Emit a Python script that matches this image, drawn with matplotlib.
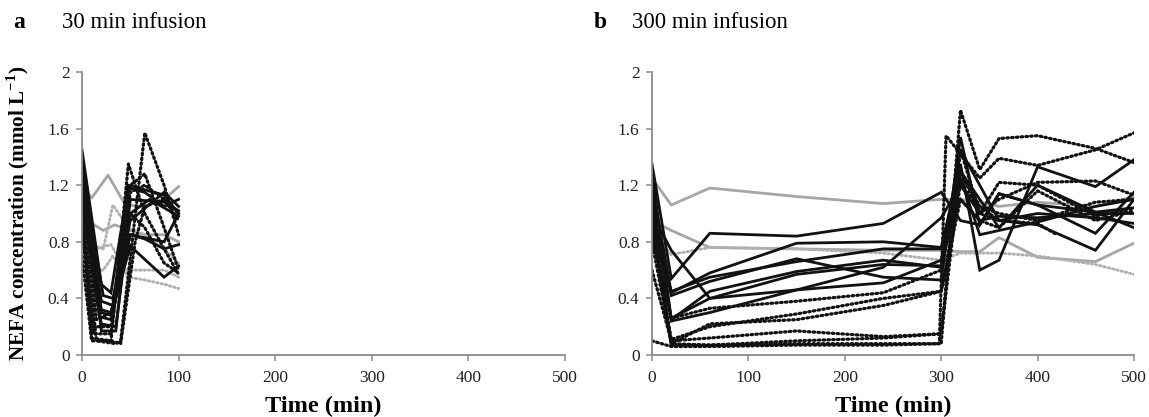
import matplotlib
matplotlib.use("Agg")
import matplotlib.pyplot as plt

# ---------------- data ----------------
# Panel a (30 min infusion): each line has its own sampling times
a_solid_t = [[0, 20, 30, 48, 85, 100], [0, 20, 32, 48, 65, 85, 100], [0, 20, 30, 50, 85, 100],
             [0, 18, 30, 50, 65, 85, 100], [0, 20, 30, 50, 85, 100], [0, 20, 35, 50, 70, 100],
             [0, 22, 32, 50, 85, 100], [0, 20, 35, 50, 85, 100]]
a_solid_v = [[1.45, 0.50, 0.44, 1.20, 1.13, 1.00], [1.30, 0.38, 0.35, 1.18, 1.15, 1.05, 1.10],
             [1.20, 0.32, 0.30, 0.85, 0.80, 1.00], [1.10, 0.27, 0.25, 0.85, 0.82, 0.75, 0.78],
             [1.25, 0.30, 0.28, 0.77, 0.55, 0.63], [1.15, 0.22, 0.20, 1.00, 1.10, 0.98],
             [1.30, 0.42, 0.40, 0.95, 1.15, 1.05], [1.40, 0.17, 0.17, 1.10, 1.08, 1.02]]
a_dot_t = [[0, 15, 35, 40, 65, 85, 100], [0, 10, 30, 48, 65, 85, 100],
           [0, 12, 30, 50, 65, 85, 100], [0, 10, 30, 50, 65, 85, 100],
           [0, 15, 30, 50, 65, 85, 100], [0, 10, 30, 40, 55, 65, 85, 100]]
a_dot_v = [[1.10, 0.10, 0.08, 0.10, 1.57, 1.20, 0.85], [1.00, 0.12, 0.10, 1.35, 1.00, 0.75, 0.57],
           [0.95, 0.15, 0.15, 1.20, 1.28, 0.90, 0.60], [0.90, 0.20, 0.20, 1.15, 1.20, 1.10, 1.00],
           [1.20, 0.25, 0.30, 1.00, 0.90, 0.65, 0.58], [0.70, 0.10, 0.10, 0.08, 0.80, 1.05, 1.10, 0.95]]
a_gray_t = [[0, 10, 27, 45, 65, 85, 100], [0, 8, 22, 34, 50, 65, 85, 100]]
a_gray_v = [[1.20, 1.11, 1.27, 1.06, 1.05, 1.10, 1.19], [1.00, 0.94, 0.88, 0.92, 0.88, 0.85, 0.85, 0.80]]
a_graydot_t = [[0, 10, 22, 32, 48, 65, 85, 100], [0, 10, 22, 32, 48, 65, 85, 100],
               [0, 15, 30, 45, 65, 85, 100]]
a_graydot_v = [[0.90, 0.78, 0.75, 1.06, 0.90, 0.85, 0.75, 0.65],
               [0.80, 0.60, 0.60, 0.70, 0.55, 0.53, 0.50, 0.47],
               [0.85, 0.75, 0.78, 0.60, 0.60, 0.60, 0.55]]

# Panel b (300 min infusion)
b_t = [0, 20, 60, 150, 240, 300, 320, 340, 360, 400, 460, 500]
b_solid_v = [[1.35, 0.54, 0.86, 0.84, 0.93, 1.15, 0.95, 0.92, 1.14, 1.06, 1.01, 1.04],
             [1.20, 0.44, 0.58, 0.79, 0.80, 0.76, 1.35, 0.60, 0.67, 1.33, 1.19, 1.38],
             [1.10, 0.42, 0.52, 0.68, 0.55, 0.53, 1.54, 0.92, 1.14, 1.06, 0.86, 1.15],
             [1.00, 0.74, 0.40, 0.46, 0.62, 0.97, 1.20, 1.00, 0.95, 1.00, 0.97, 0.93],
             [1.30, 0.25, 0.45, 0.59, 0.67, 0.62, 1.30, 1.10, 0.90, 1.20, 1.01, 0.90],
             [1.15, 0.24, 0.30, 0.46, 0.51, 0.67, 1.45, 1.20, 0.95, 0.92, 0.74, 1.10],
             [1.05, 0.26, 0.40, 0.57, 0.64, 0.63, 1.25, 0.85, 0.88, 0.94, 1.05, 1.10],
             [0.95, 0.45, 0.55, 0.66, 0.75, 0.75, 1.10, 0.95, 0.98, 0.97, 1.00, 1.00]]
b_dot_t = [[0, 20, 60, 150, 240, 300, 320, 340, 360, 400, 460, 500],
           [0, 20, 60, 150, 240, 298, 305, 340, 360, 400, 460, 500],
           [0, 20, 60, 150, 240, 300, 320, 340, 360, 400, 460, 500],
           [0, 20, 60, 150, 240, 300, 320, 340, 360, 400, 420],
           [0, 20, 60, 150, 240, 300, 320, 340, 360, 400, 460, 500],
           [0, 20, 60, 150, 240, 300, 320, 340, 360, 400, 460, 500],
           [0, 20, 60, 150, 240, 300, 320, 340, 360, 400, 460, 500]]
b_dot_v = [[1.00, 0.08, 0.07, 0.08, 0.08, 0.08, 1.73, 1.31, 1.53, 1.55, 1.46, 1.36],
           [0.10, 0.06, 0.06, 0.07, 0.07, 0.08, 1.55, 1.25, 1.39, 1.34, 1.45, 1.57],
           [0.60, 0.10, 0.12, 0.17, 0.13, 0.15, 1.45, 1.00, 1.22, 1.20, 0.98, 1.04],
           [0.80, 0.08, 0.22, 0.25, 0.35, 0.45, 1.20, 1.05, 0.95, 0.93, 0.85],
           [0.85, 0.26, 0.33, 0.38, 0.44, 0.60, 1.30, 1.00, 1.10, 1.22, 1.23, 1.13],
           [0.90, 0.11, 0.20, 0.29, 0.40, 0.45, 1.10, 0.95, 0.90, 1.16, 0.95, 1.02],
           [0.95, 0.07, 0.07, 0.10, 0.12, 0.15, 1.30, 1.05, 1.00, 0.95, 1.08, 1.10]]
b_gray_v = [[1.25, 1.06, 1.18, 1.12, 1.07, 1.10, 1.10, 1.08, 1.05, 1.08, 1.05, 1.12],
            [0.95, 0.88, 0.76, 0.75, 0.74, 0.74, 0.73, 0.73, 0.83, 0.69, 0.66, 0.79]]
b_graydot_v = [[0.85, 0.71, 0.76, 0.75, 0.72, 0.67, 0.72, 0.72, 0.72, 0.70, 0.64, 0.57]]

x_ticks = [0, 100, 200, 300, 400, 500]
y_ticks = [0, 0.4, 0.8, 1.2, 1.6, 2.0]
y_ticklabels = ["0", "0.4", "0.8", "1.2", "1.6", "2"]

# ---------------- style ----------------
SERIF = ["Liberation Serif", "DejaVu Serif"]
plt.rcParams["font.family"] = SERIF
plt.rcParams["mathtext.fontset"] = "custom"
plt.rcParams["mathtext.rm"] = "Liberation Serif"
plt.rcParams["mathtext.bf"] = "Liberation Serif:bold"
BLACK = "#111111"
GRAY = "#a6a6a6"
AXC = "#8c8c8c"
solid_kw = dict(color=BLACK, lw=2.0, solid_joinstyle="miter")
dot_kw = dict(color=BLACK, lw=2.3, linestyle=(0, (0.5, 1.0)), dash_capstyle="round")
gray_kw = dict(color=GRAY, lw=2.0)
graydot_kw = dict(color="#b0b0b0", lw=2.1, linestyle=(0, (0.5, 1.0)), dash_capstyle="round")

fig = plt.figure(figsize=(11.49, 4.17), dpi=100)
ax_a = fig.add_axes([82 / 1149, 62 / 417, 483 / 1149, 283 / 417])
ax_b = fig.add_axes([652 / 1149, 62 / 417, 482 / 1149, 283 / 417])


def style_axes(ax):
    ax.set_xlim(0, 500)
    ax.set_ylim(0, 2)
    for s in ["top", "right"]:
        ax.spines[s].set_visible(False)
    for s in ["left", "bottom"]:
        ax.spines[s].set_color(AXC)
        ax.spines[s].set_linewidth(1.3)
    ax.set_xticks(x_ticks)
    ax.set_yticks(y_ticks)
    ax.set_yticklabels(y_ticklabels)
    ax.tick_params(axis="both", direction="out", length=4, width=1.1, color=AXC,
                   labelsize=12.5, labelcolor="#222222")
    ax.tick_params(axis="x", pad=7)
    ax.tick_params(axis="y", pad=5)
    ax.set_xlabel("Time (min)", fontsize=17.5, fontweight="bold", labelpad=7)


# Panel a
for t, v in zip(a_gray_t, a_gray_v):
    ax_a.plot(t, v, **gray_kw)
for t, v in zip(a_graydot_t, a_graydot_v):
    ax_a.plot(t, v, **graydot_kw)
for t, v in zip(a_dot_t, a_dot_v):
    ax_a.plot(t, v, **dot_kw)
for t, v in zip(a_solid_t, a_solid_v):
    ax_a.plot(t, v, **solid_kw)

# Panel b
for v in b_gray_v:
    ax_b.plot(b_t, v, **gray_kw)
for v in b_graydot_v:
    ax_b.plot(b_t, v, **graydot_kw)
for t, v in zip(b_dot_t, b_dot_v):
    ax_b.plot(t, v, **dot_kw)
for v in b_solid_v:
    ax_b.plot(b_t, v, **solid_kw)

style_axes(ax_a)
style_axes(ax_b)
ax_a.set_ylabel("NEFA concentration (mmol L$^{\\mathbf{-1}}$)", fontsize=15.2,
                fontweight="bold", labelpad=12)

fig.text(13 / 1149, 1 - 22 / 417, "a", fontsize=17, fontweight="bold", va="center", ha="left")
fig.text(62 / 1149, 1 - 22 / 417, "30 min infusion", fontsize=16.5, va="center", ha="left")
fig.text(594 / 1149, 1 - 22 / 417, "b", fontsize=17, fontweight="bold", va="center", ha="left")
fig.text(632 / 1149, 1 - 22 / 417, "300 min infusion", fontsize=16.5, va="center", ha="left")

fig.savefig("out.png", dpi=100)
